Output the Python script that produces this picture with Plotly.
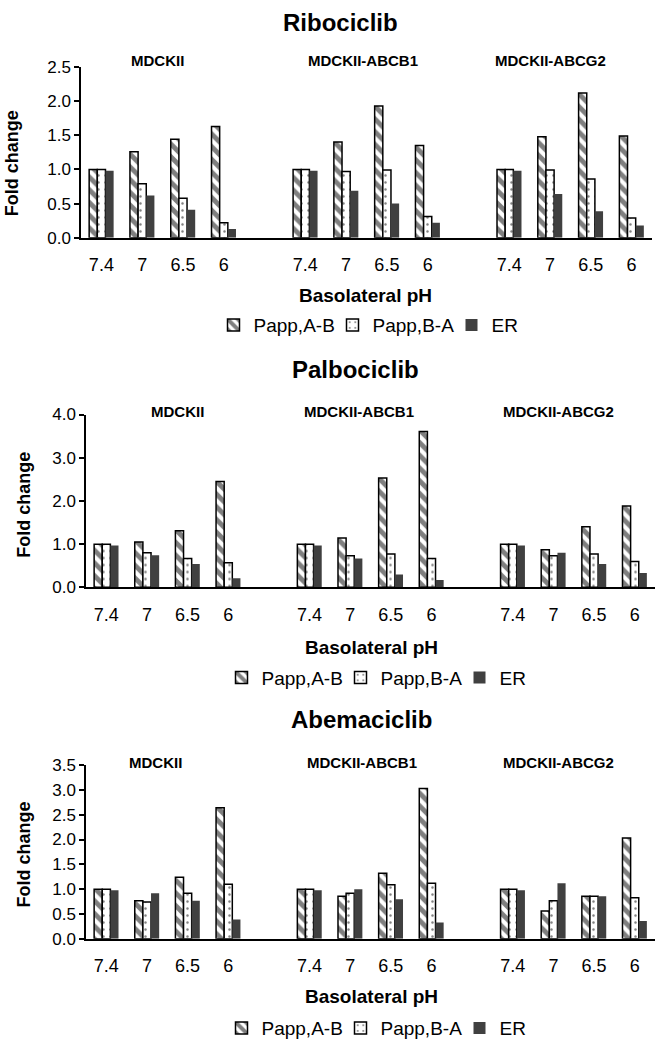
import plotly.graph_objects as go

FONT = "Liberation Sans, Arial, sans-serif"

ph_labels = ["7.4", "7", "6.5", "6"]
cell_lines = ["MDCKII", "MDCKII-ABCB1", "MDCKII-ABCG2"]
drugs = ["Ribociclib", "Palbociclib", "Abemaciclib"]
series_names = ["Papp,A-B", "Papp,B-A", "ER"]

# Ribociclib (MDCKII x4, ABCB1 x4, ABCG2 x4)
ribo_ab = [1.00, 1.26, 1.44, 1.63, 1.00, 1.40, 1.93, 1.35, 1.00, 1.48, 2.12, 1.49]
ribo_ba = [1.00, 0.79, 0.58, 0.22, 1.00, 0.97, 0.99, 0.31, 1.00, 0.99, 0.86, 0.29]
ribo_er = [0.98, 0.62, 0.41, 0.13, 0.98, 0.69, 0.50, 0.22, 0.98, 0.64, 0.39, 0.18]

# Palbociclib
palbo_ab = [1.00, 1.05, 1.31, 2.45, 1.00, 1.14, 2.53, 3.61, 1.00, 0.87, 1.40, 1.88]
palbo_ba = [1.00, 0.80, 0.67, 0.57, 1.00, 0.73, 0.77, 0.67, 1.00, 0.73, 0.77, 0.60]
palbo_er = [0.97, 0.74, 0.54, 0.21, 0.97, 0.67, 0.30, 0.17, 0.97, 0.80, 0.54, 0.33]

# Abemaciclib
abema_ab = [1.00, 0.77, 1.24, 2.64, 1.00, 0.86, 1.32, 3.03, 1.00, 0.56, 0.86, 2.03]
abema_ba = [1.00, 0.74, 0.92, 1.10, 1.00, 0.92, 1.09, 1.12, 1.00, 0.77, 0.86, 0.83]
abema_er = [0.98, 0.92, 0.77, 0.39, 0.98, 1.00, 0.80, 0.33, 0.98, 1.12, 0.86, 0.36]

y_max = [2.5, 4.0, 3.5]
y_dtick = [0.5, 1.0, 0.5]

data = [
    (ribo_ab, ribo_ba, ribo_er),
    (palbo_ab, palbo_ba, palbo_er),
    (abema_ab, abema_ba, abema_er),
]

W, H = 656, 1050
def px_x(v):
    return v / W
def px_y(v):
    return 1 - v / H

# layout geometry in pixels: (x0, x1, y_zero, y_top)
geom = [
    (81, 652, 233, 59),
    (86, 655, 589, 413),
    (86, 655, 947, 770),
]
title_y = [14, 367, 724]
sub_y = [52, 410, 767]
sub_x = [[157, 363, 550], [177, 359, 558], [155, 362, 558]]
title_x = [340, 355, 361]
xtitle_y = [292, 650, 1006]
xtitle_x = [365, 371, 371]
leg_y = [322, 681, 1038]
leg_x = [392, 400, 400]
ylab_x = [12, 24, 24]
ylab_y = [157, 505, 861]

# x positions: 4 pH values per cell line, one blank slot between groups
xpos = [g * 5 + i for g in range(len(cell_lines)) for i in range(len(ph_labels))]
tick_text = [ph_labels[i] for g in range(len(cell_lines)) for i in range(len(ph_labels))]

fig = go.Figure()

styles = [
    dict(color="white", line=dict(color="black", width=1.5),
         pattern=dict(shape="\\", fgcolor="black", bgcolor="white", size=9, solidity=0.55)),
    dict(color="white", line=dict(color="black", width=1.5),
         pattern=dict(shape=".", fgcolor="black", bgcolor="white", size=7, solidity=0.1)),
    dict(color="#404040", line=dict(color="#404040", width=0)),
]

annotations = []
for p in range(3):
    ax = "" if p == 0 else str(p + 1)
    leg = "legend" if p == 0 else "legend" + str(p + 1)
    for s in range(3):
        fig.add_trace(go.Bar(
            x=xpos, y=data[p][s], name=series_names[s],
            marker=styles[s], xaxis="x" + ax, yaxis="y" + ax,
            legend=leg, offsetgroup=str(s),
        ))
    x0, x1, yz, yt = geom[p]
    fig.layout["xaxis" + ax] = dict(
        domain=[px_x(x0), px_x(x1)], anchor="y" + ax,
        range=[-0.5, 13.5], tickvals=xpos, ticktext=tick_text,
        showline=True, linecolor="black", linewidth=1.5,
        ticks="", showgrid=False, zeroline=False,
        ticklabelstandoff=10,
        tickfont=dict(family=FONT, size=18, color="black"),
    )
    fig.layout["yaxis" + ax] = dict(
        domain=[px_y(yz), px_y(yt)], anchor="x" + ax,
        range=[0, y_max[p]], dtick=y_dtick[p], tick0=0, tickformat=".1f",
        showline=True, linecolor="black", linewidth=1.5,
        ticks="outside", ticklen=5, tickwidth=1.5, tickcolor="black",
        showgrid=False, zeroline=False,
        tickfont=dict(family=FONT, size=17, color="black"),
    )
    fig.layout[leg] = dict(
        orientation="h", x=px_x(leg_x[p]), y=px_y(leg_y[p]),
        xanchor="center", yanchor="middle",
        font=dict(family=FONT, size=19, color="black"),
        bgcolor="rgba(0,0,0,0)", itemwidth=30, tracegroupgap=0,
        entrywidth=74, entrywidthmode="pixels",
    )
    annotations.append(dict(
        text="<b>" + drugs[p] + "</b>", x=px_x(title_x[p]), y=px_y(title_y[p]),
        xref="paper", yref="paper", showarrow=False,
        xanchor="center", yanchor="middle",
        font=dict(family=FONT, size=24, color="black"),
    ))
    for g in range(3):
        annotations.append(dict(
            text="<b>" + cell_lines[g] + "</b>", x=px_x(sub_x[p][g]), y=px_y(sub_y[p]),
            xref="paper", yref="paper", showarrow=False,
            xanchor="center", yanchor="middle",
            font=dict(family=FONT, size=15, color="black"),
        ))
    annotations.append(dict(
        text="<b>Basolateral pH</b>", x=px_x(xtitle_x[p]), y=px_y(xtitle_y[p]),
        xref="paper", yref="paper", showarrow=False,
        xanchor="center", yanchor="middle",
        font=dict(family=FONT, size=19, color="black"),
    ))
    annotations.append(dict(
        text="<b>Fold change</b>", x=px_x(ylab_x[p]), y=px_y(ylab_y[p]),
        xref="paper", yref="paper", showarrow=False, textangle=-90,
        xanchor="center", yanchor="middle",
        font=dict(family=FONT, size=18, color="black"),
    ))

fig.update_layout(
    width=W, height=H,
    margin=dict(l=0, r=0, t=0, b=0),
    paper_bgcolor="white", plot_bgcolor="white",
    barmode="group", bargap=0.4, bargroupgap=0.0,
    annotations=annotations,
    font=dict(family=FONT, color="black"),
)

fig.write_html(
    "out.html",
    config={"displayModeBar": False},
    post_script="document.body.style.margin='0';document.body.style.overflow='hidden';",
)
